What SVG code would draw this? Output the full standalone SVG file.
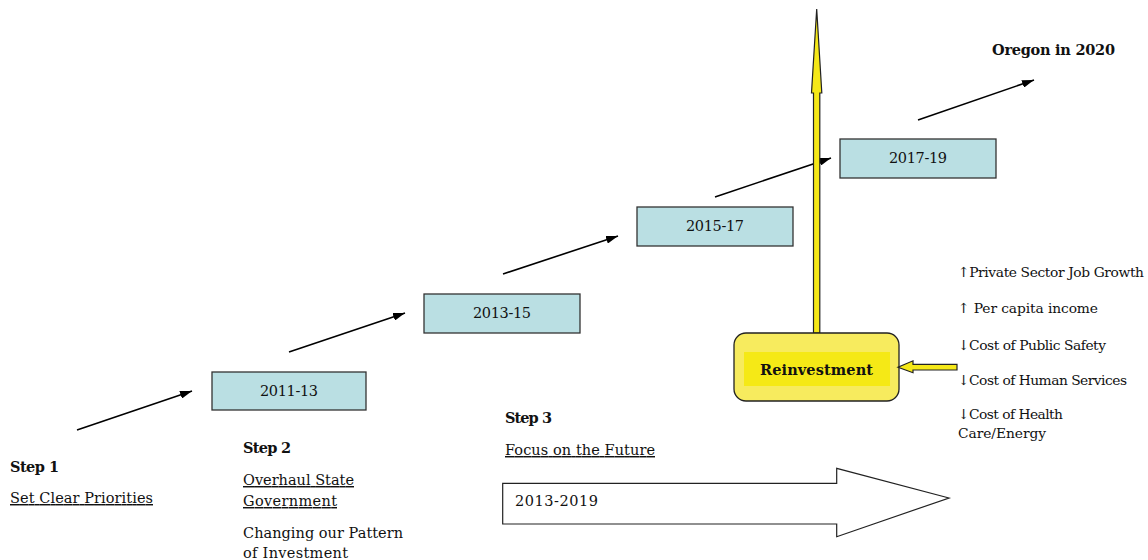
<svg xmlns="http://www.w3.org/2000/svg" width="1148" height="560" viewBox="0 0 1148 560">
<defs>
<marker id="ah" viewBox="0 0 12 8" refX="12" refY="4" markerWidth="12" markerHeight="8" markerUnits="userSpaceOnUse" orient="auto">
<path d="M0,0 L12,4 L0,8 Z" fill="#000"/>
</marker>
<style>
.t{font-family:"DejaVu Serif","Liberation Serif",serif;font-size:14.5px;fill:#111}
.s{font-size:13.8px}
.b{font-weight:bold}
.u{text-decoration:underline}
.box{fill:#BADFE3;stroke:#333;stroke-width:1.3}
.conn{stroke:#000;stroke-width:1.6;fill:none;marker-end:url(#ah)}
.yel{fill:#F5E818;stroke:#222;stroke-width:1.2}
</style>
</defs>
<rect width="1148" height="560" fill="#fff"/>
<g id="connectors">
<line class="conn" x1="77" y1="430" x2="192" y2="391"/>
<line class="conn" x1="289" y1="352" x2="405" y2="313"/>
<line class="conn" x1="503" y1="274" x2="618" y2="236"/>
<line class="conn" x1="715" y1="197" x2="831" y2="158"/>
<line class="conn" x1="918" y1="120" x2="1034" y2="80"/>
</g>
<g id="node-2011-13"><rect class="box" x="212" y="372" width="154" height="38"/><text class="t" x="289" y="396" text-anchor="middle" textLength="58">2011-13</text></g>
<g id="node-2013-15"><rect class="box" x="424" y="294" width="156" height="39"/><text class="t" x="502" y="317.5" text-anchor="middle" textLength="58">2013-15</text></g>
<g id="node-2015-17"><rect class="box" x="637" y="207" width="156" height="39"/><text class="t" x="715" y="230.5" text-anchor="middle" textLength="58">2015-17</text></g>
<g id="node-2017-19"><rect class="box" x="840" y="139" width="156" height="39"/><text class="t" x="918" y="162.5" text-anchor="middle" textLength="58">2017-19</text></g>
<g id="yellow-up-arrow"><path class="yel" d="M813.5,333 L813.5,93 L811.5,93 L816.7,9 L821.8,93 L819.8,93 L819.8,333 Z"/></g>
<g id="node-reinvestment">
<rect x="734" y="333" width="165" height="68" rx="12" ry="12" fill="#F7EB5E" stroke="#222" stroke-width="1.3"/>
<rect x="744" y="352" width="146" height="34" fill="#F5E916"/>
<text class="t b" x="760" y="374.5" textLength="113">Reinvestment</text>
</g>
<g id="yellow-left-arrow"><path class="yel" d="M957,364.3 L913,364.3 L913,360.8 L898,367.2 L913,372.7 L913,370 L957,370 Z"/></g>
<g id="big-arrow">
<path d="M502.7,483.3 L836.7,483.3 L836.7,468.3 L949,498 L836.7,536.7 L836.7,524 L502.7,524 Z" fill="#fff" stroke="#222" stroke-width="1.2"/>
<text class="t" x="515" y="506" textLength="83">2013-2019</text>
</g>
<g id="labels">
<text class="t b" x="992" y="55" textLength="123">Oregon in 2020</text>
<text class="t b" x="10" y="472" textLength="49">Step 1</text>
<text class="t u" x="10" y="503" textLength="143">Set Clear Priorities</text>
<text class="t b" x="243" y="453" textLength="48">Step 2</text>
<text class="t u" x="243" y="485" textLength="111">Overhaul State</text>
<text class="t u" x="243" y="506" textLength="94">Government</text>
<text class="t" x="243" y="538" textLength="160">Changing our Pattern</text>
<text class="t" x="243" y="558" textLength="105">of Investment</text>
<text class="t b" x="505" y="423" textLength="47">Step 3</text>
<text class="t u" x="505" y="455" textLength="150">Focus on the Future</text>
<text class="t s" x="958" y="277" textLength="186">↑Private Sector Job Growth</text>
<text class="t s" x="958" y="313" textLength="140">↑ Per capita income</text>
<text class="t s" x="958" y="350" textLength="148">↓Cost of Public Safety</text>
<text class="t s" x="958" y="385" textLength="169">↓Cost of Human Services</text>
<text class="t s" x="958" y="419" textLength="105">↓Cost of Health</text>
<text class="t s" x="958" y="438" textLength="88">Care/Energy</text>
</g>
</svg>
